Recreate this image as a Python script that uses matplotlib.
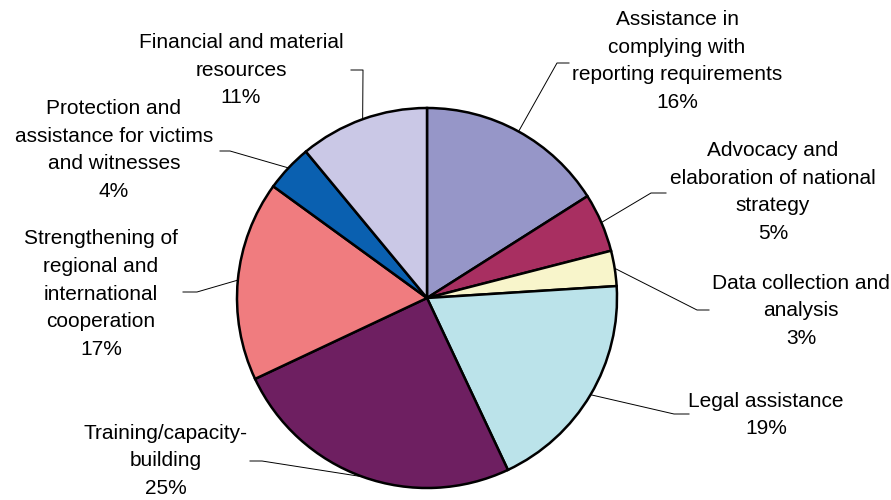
import numpy as np
import matplotlib
matplotlib.use("Agg")
import matplotlib.pyplot as plt

plt.rcParams['font.family'] = ['Liberation Sans', 'DejaVu Sans']

# Share of activities, clockwise from 12 o'clock
labels = [
    "Assistance in\ncomplying with\nreporting requirements",
    "Advocacy and\nelaboration of national\nstrategy",
    "Data collection and\nanalysis",
    "Legal assistance",
    "Training/capacity-\nbuilding",
    "Strengthening of\nregional and\ninternational\ncooperation",
    "Protection and\nassistance for victims\nand witnesses",
    "Financial and material\nresources",
]
shares = [16, 5, 3, 19, 25, 17, 4, 11]
colors = ["#9696C8", "#A82F61", "#F8F5CB", "#BBE3EA",
          "#6E1F61", "#F07C7F", "#0A60B0", "#CAC8E6"]

# label layout in pixels (y down): text centre, elbow, line end
text_pos = [(677, 61), (773, 192), (801, 311), (766, 415),
            (166, 461), (101, 294), (114, 150), (241, 70)]
elbows = [(557, 63), (651, 193), (697, 310), (674, 414),
          (262, 461), (197, 292), (230, 151), (363, 70)]
ends = [(569, 63), (666, 193), (709, 310), (689, 414),
        (250, 461), (183, 292), (220, 151), (351, 70)]

W, H = 891, 500
fig = plt.figure(figsize=(W / 100, H / 100), dpi=100)
ax = fig.add_axes([0, 0, 1, 1])

wedges, _ = ax.pie(shares, colors=colors, startangle=90, counterclock=False,
                   center=(427, H - 298), radius=190,
                   wedgeprops=dict(edgecolor="black", linewidth=1.8))

for w, lab, val, tp, el, en in zip(wedges, labels, shares, text_pos, elbows, ends):
    mid = np.deg2rad((w.theta1 + w.theta2) / 2)
    ex = w.center[0] + w.r * np.cos(mid)
    ey = w.center[1] + w.r * np.sin(mid)
    ax.plot([ex, el[0], en[0]], [ey, H - el[1], H - en[1]],
            color="black", lw=0.7, zorder=0)
    ax.text(tp[0], H - tp[1], f"{lab}\n{val}%", ha="center", va="center",
            multialignment="center", fontsize=15, linespacing=1.57)

ax.set_xlim(0, W)
ax.set_ylim(0, H)
ax.set_aspect("equal")
ax.axis("off")

fig.savefig("out.png", dpi=100, facecolor="white")
